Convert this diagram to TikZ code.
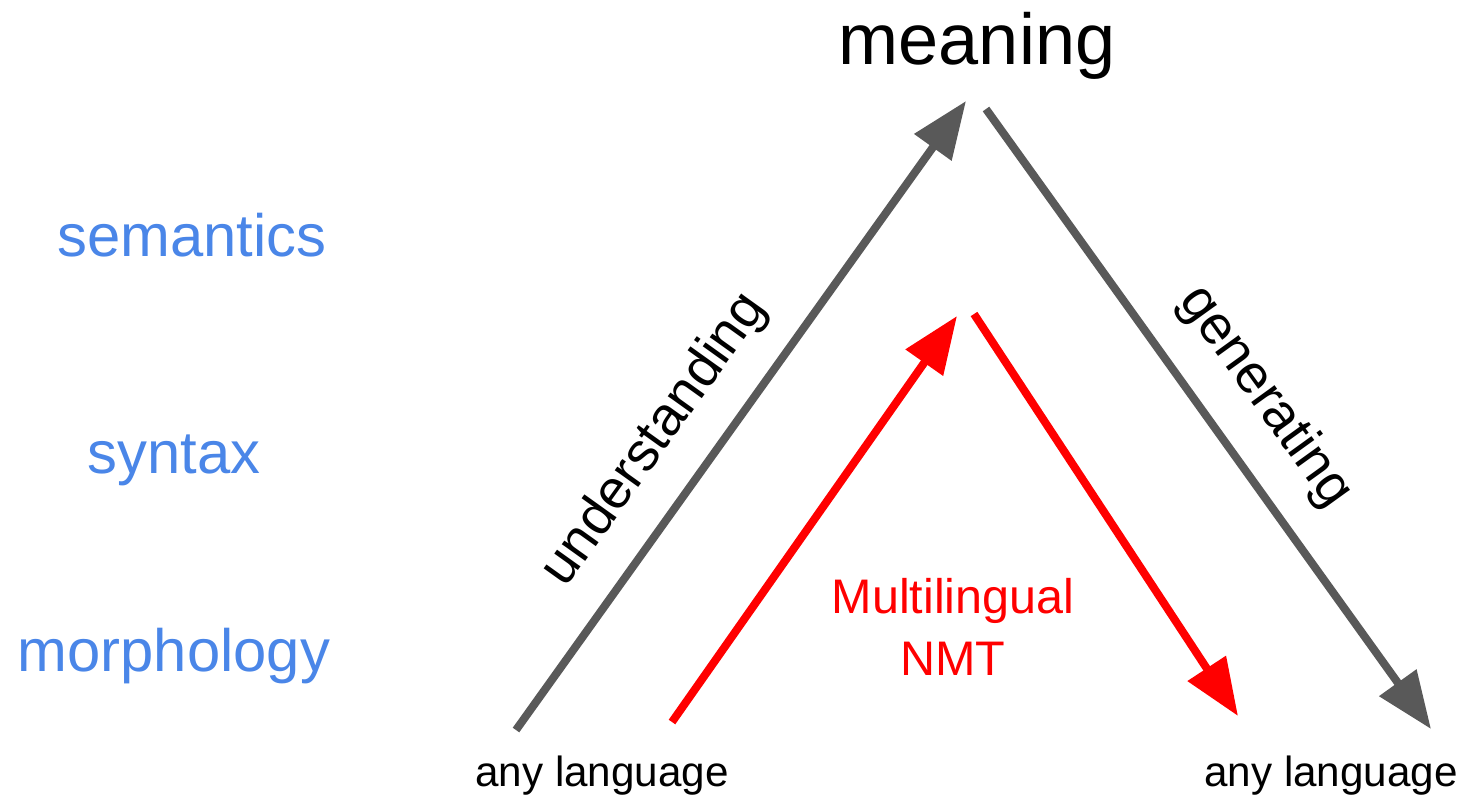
\documentclass[tikz,border=0pt]{standalone}
\usepackage{fontspec}
\setmainfont{Liberation Sans}
\usetikzlibrary{arrows.meta}
\definecolor{arrgray}{HTML}{595959}
\definecolor{lvlblue}{HTML}{4A86E8}
\definecolor{nmtred}{HTML}{FF0000}
\begin{document}
\begin{tikzpicture}[x=0.01cm,y=-0.01cm,
  level/.style={text=lvlblue,font=\fontsize{17}{20}\selectfont,inner sep=0pt,anchor=base},
  lang/.style={font=\fontsize{12}{14}\selectfont,inner sep=0pt,anchor=base},
  side/.style={font=\fontsize{15.5}{18}\selectfont,inner sep=0pt},
  redtxt/.style={text=nmtred,font=\fontsize{13.8}{16}\selectfont,inner sep=0pt,anchor=base},
  grayarrow/.style={draw=arrgray,line width=0.08cm,-{Triangle[length=0.57cm,width=0.44cm]}},
  redarrow/.style={draw=nmtred,line width=0.08cm,-{Triangle[length=0.57cm,width=0.44cm]}}]
\useasboundingbox (0,0) rectangle (1463,796);
\node[font=\fontsize{20.5}{24}\selectfont,inner sep=0pt,anchor=base] (meaning) at (977,64) {meaning};
\node[level] (semantics) at (192,256) {semantics};
\node[level] (syntax) at (174,473) {syntax};
\node[level] (morphology) at (174,671) {morphology};
\node[lang] (anyL) at (602,786) {any language};
\node[lang] (anyR) at (1331,786) {any language};
\node[redtxt] (nmt1) at (953,613) {Multilingual};
\node[redtxt] (nmt2) at (953,675) {NMT};
\node[side,rotate=54.4] (understanding) at (655,440) {understanding};
\node[side,rotate=-54.2] (generating) at (1265,397) {generating};
\coordinate (gLs) at (516,730);
\coordinate (gLe) at (966,101);
\coordinate (gRs) at (986,109);
\coordinate (gRe) at (1431,729);
\coordinate (rLs) at (672,722);
\coordinate (rLe) at (957,316);
\coordinate (rRs) at (974,314);
\coordinate (rRe) at (1238,716);
\draw[grayarrow] (gLs) -- (gLe);
\draw[grayarrow] (gRs) -- (gRe);
\draw[redarrow] (rLs) -- (rLe);
\draw[redarrow] (rRs) -- (rRe);
\end{tikzpicture}
\end{document}
